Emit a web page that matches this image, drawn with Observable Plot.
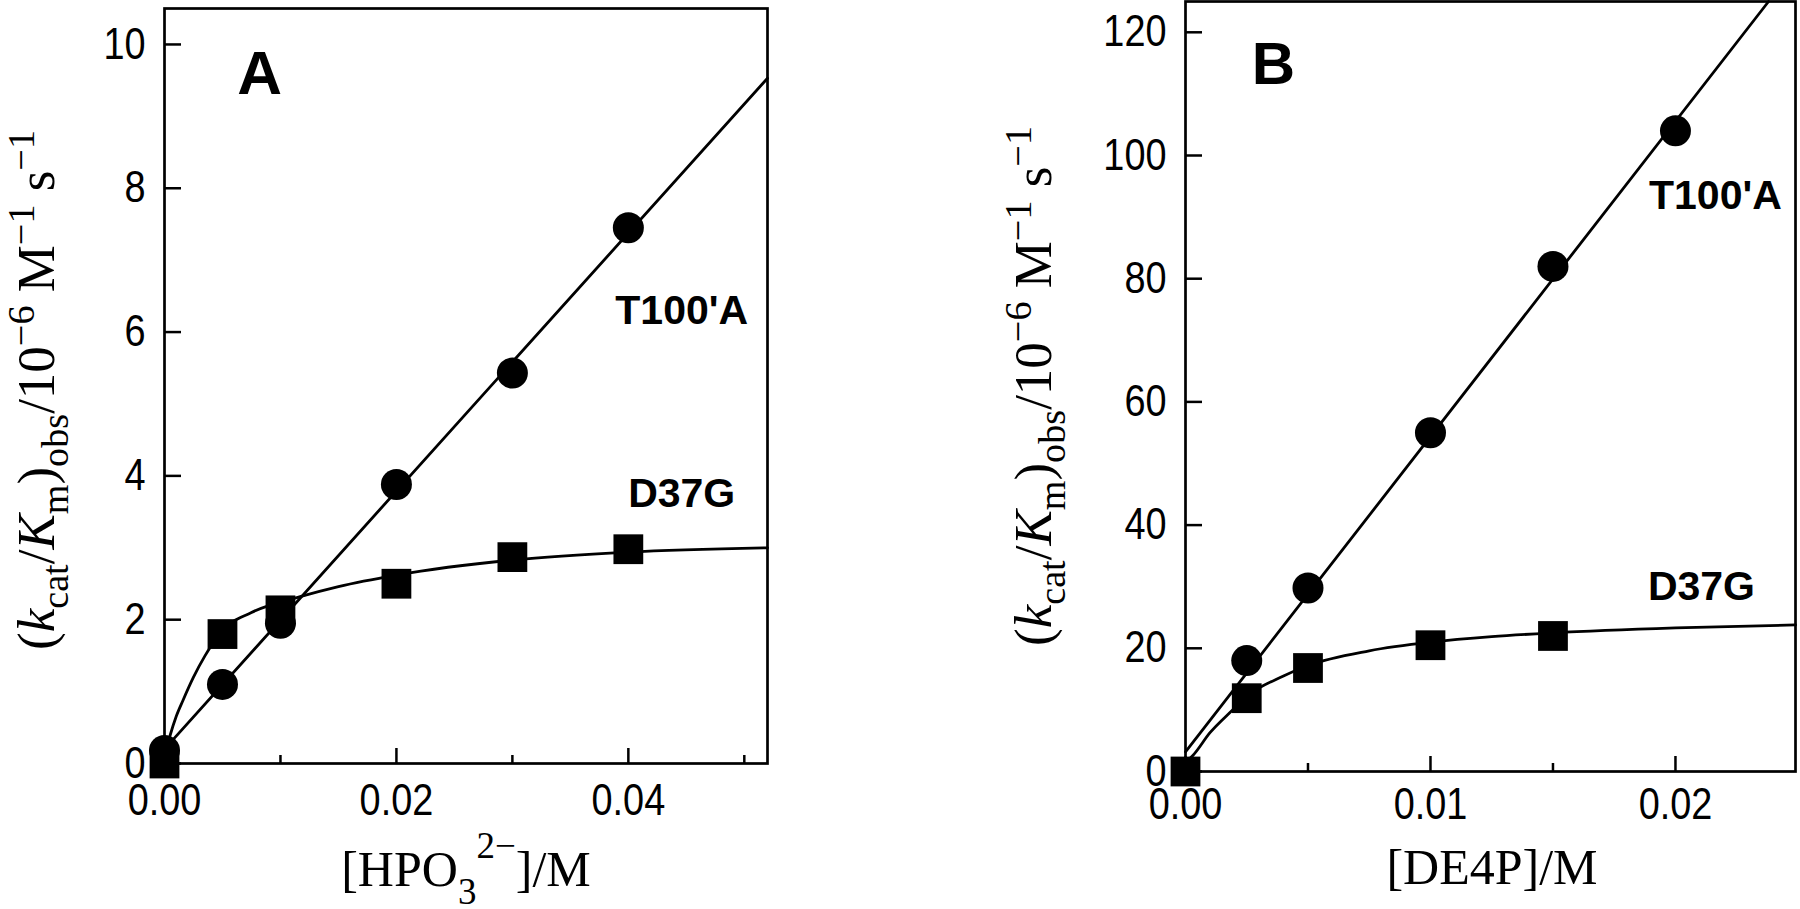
<!DOCTYPE html>
<html><head><meta charset="utf-8">
<script src="https://cdn.jsdelivr.net/npm/d3@7"></script>
<script src="https://cdn.jsdelivr.net/npm/@observablehq/plot@0.6"></script>
<style>
body{margin:0;background:#fff;}
#wrap{position:relative;width:1800px;height:909px;overflow:hidden;background:#fff;}
#wrap svg{position:absolute;top:0;}
</style></head><body><div id="wrap"></div>
<script>
// ---------- Panel A : [HPO3 2-] ----------
const aT100A_x = [0, 0.005, 0.01, 0.02, 0.03, 0.04];
const aT100A_y = [0.18, 1.10, 1.95, 3.88, 5.43, 7.45];
const aD37G_x = [0, 0.005, 0.01, 0.02, 0.03, 0.04];
const aD37G_y = [0.0, 1.80, 2.13, 2.50, 2.87, 2.98];
const aT100A_fit_x = [0, 0.052];
const aT100A_fit_y = [0.2, 9.53];
const aD37G_fit_x = [0, 0.0005, 0.001, 0.0016, 0.0025, 0.0035, 0.005, 0.0075, 0.0117, 0.015, 0.02, 0.03, 0.04, 0.052];
const aD37G_fit_y = [0.1, 0.4, 0.65, 0.88, 1.2, 1.5, 1.85, 2.1, 2.32, 2.46, 2.62, 2.83, 2.94, 3.0];
const aXMajor = [0, 0.02, 0.04];
const aXMajorLabels = ["0.00", "0.02", "0.04"];
const aXMinor = [0.01, 0.03, 0.05];
const aYTicks = [0, 2, 4, 6, 8, 10];
const aYLabels = ["0", "2", "4", "6", "8", "10"];
const aNotes = [
  {x: 0.0082, y: 9.58, text: "A", size: 62},
  {x: 0.0446, y: 6.3, text: "T100'A", size: 41},
  {x: 0.0446, y: 3.75, text: "D37G", size: 41}
];

// ---------- Panel B : [DE4P] ----------
const bT100A_x = [0.0025, 0.005, 0.01, 0.015, 0.02];
const bT100A_y = [18.0, 29.8, 55.0, 82.0, 104.0];
const bD37G_x = [0, 0.0025, 0.005, 0.01, 0.015];
const bD37G_y = [0, 11.9, 16.8, 20.5, 22.0];
const bT100A_fit_x = [0, 0.0238];
const bT100A_fit_y = [3.2, 125];
const bD37G_fit_x = [0, 0.0003, 0.001, 0.0019, 0.0025, 0.004, 0.005, 0.0075, 0.01, 0.0125, 0.015, 0.02, 0.0249];
const bD37G_fit_y = [1.5, 2.6, 6.3, 9.9, 12.2, 15.5, 17.2, 19.6, 21.0, 21.9, 22.5, 23.3, 23.8];
const bXMajor = [0, 0.01, 0.02];
const bXMajorLabels = ["0.00", "0.01", "0.02"];
const bXMinor = [0.005, 0.015];
const bYTicks = [0, 20, 40, 60, 80, 100, 120];
const bYLabels = ["0", "20", "40", "60", "80", "100", "120"];
const bNotes = [
  {x: 0.00359, y: 114.8, text: "B", size: 60},
  {x: 0.02163, y: 93.5, text: "T100'A", size: 41},
  {x: 0.02106, y: 29.9, text: "D37G", size: 41}
];

const tickFont = "'Liberation Sans', Arial, sans-serif";
const noteFont = "'Liberation Sans', Arial, sans-serif";
const serif = "'Liberation Serif', 'Times New Roman', serif";

const pts = (xs, ys) => xs.map((x, i) => ({x, y: ys[i]}));

function addTitle(svg, parts, size, attrs, subShift, supShift, scriptScale) {
  const t = d3.select(svg).append("text").attr("font-family", serif).attr("font-size", size)
    .attr("fill", "black").attr("text-anchor", "middle");
  Object.entries(attrs).forEach(([k, v]) => t.attr(k, v));
  let cur = 0;
  parts.forEach(p => {
    const target = p.s === "sub" ? subShift : p.s === "sup" ? -supShift : 0;
    const ts = t.append("tspan").text(p.t).attr("dy", target - cur);
    cur = target;
    if (p.s) ts.attr("font-size", size * scriptScale);
    if (p.i) ts.attr("font-style", "italic");
  });
}

function panel(o) {
  const svg = Plot.plot({
    width: 900, height: 909,
    marginLeft: o.ml, marginRight: o.mr, marginTop: o.mt, marginBottom: o.mb,
    x: {domain: o.xDomain},
    y: {domain: o.yDomain},
    style: {fontFamily: tickFont, fontSize: "44px", color: "black", background: "transparent", overflow: "visible"},
    marks: [
      Plot.axisX({ticks: o.xMajor, tickSize: -15, tickPadding: o.xPad, tickFormat: (d, i) => o.xLabels[i], label: null, strokeWidth: 2.5, fontSize: 44}),
      Plot.axisX({ticks: o.xMinor, tickSize: -8, tickPadding: 0, tickFormat: () => "", label: null, strokeWidth: 2.5}),
      Plot.axisY({ticks: o.yTicks, tickSize: -17, tickPadding: 36, tickFormat: (d, i) => o.yLabels[i], label: null, strokeWidth: 2.5, fontSize: 44}),
      Plot.line(pts(o.t100Fx, o.t100Fy), {x: "x", y: "y", stroke: "black", strokeWidth: 2.8}),
      Plot.line(pts(o.d37Fx, o.d37Fy), {x: "x", y: "y", stroke: "black", strokeWidth: 2.8, curve: "monotone-x"}),
      Plot.dot(pts(o.t100x, o.t100y), {x: "x", y: "y", r: 15.5, fill: "black", symbol: "circle"}),
      Plot.dot(pts(o.d37x, o.d37y), {x: "x", y: "y", r: 16.8, fill: "black", symbol: "square"}),
      Plot.frame({stroke: "black", strokeWidth: 2.7}),
      Plot.text(o.notes, {x: "x", y: "y", text: "text", fontSize: d => d.size, fontFamily: noteFont, fontWeight: "bold", fill: "black"})
    ]
  });
  svg.style.left = o.left + "px";
  addTitle(svg, o.xTitle, 50, {x: o.xTitleX, y: o.xTitleY}, 18, 28, 0.74);
  addTitle(svg, yTitle, 53, {transform: `translate(${o.yTitleX},${o.yTitleY}) rotate(-90)`}, 14, 20, 0.72);
  document.getElementById("wrap").appendChild(svg);
  // narrow the tick labels (the reference uses a condensed face)
  d3.select(svg).selectAll('g[aria-label="x-axis tick label"] text, g[aria-label="y-axis tick label"] text')
    .each(function () {
      const w = this.getComputedTextLength();
      if (w > 0) { this.setAttribute("textLength", w * 0.86); this.setAttribute("lengthAdjust", "spacingAndGlyphs"); }
    });
}

const yTitle = [
  {t: "("}, {t: "k", i: true}, {t: "cat", s: "sub"}, {t: "/"}, {t: "K", i: true}, {t: "m", s: "sub"},
  {t: ")"}, {t: "obs", s: "sub"}, {t: "/10"}, {t: "−6", s: "sup"}, {t: " M"}, {t: "−1", s: "sup"},
  {t: " s"}, {t: "−1", s: "sup"}
];
const xTitleA = [{t: "[HPO"}, {t: "3", s: "sub"}, {t: "2−", s: "sup"}, {t: "]/M"}];
const xTitleB = [{t: "[DE4P]/M"}];

panel({
  left: 0, ml: 164, mr: 133, mt: 8, mb: 146,
  xDomain: [0, 0.052], yDomain: [0, 10.5],
  xMajor: aXMajor, xLabels: aXMajorLabels, xMinor: aXMinor, xPad: 35,
  yTicks: aYTicks, yLabels: aYLabels,
  t100x: aT100A_x, t100y: aT100A_y, d37x: aD37G_x, d37y: aD37G_y,
  t100Fx: aT100A_fit_x, t100Fy: aT100A_fit_y, d37Fx: aD37G_fit_x, d37Fy: aD37G_fit_y,
  notes: aNotes, xTitle: xTitleA, xTitleX: 466, xTitleY: 886, yTitleX: 54, yTitleY: 390
});
panel({
  left: 900, ml: 285, mr: 5, mt: 1, mb: 138,
  xDomain: [0, 0.0249], yDomain: [0, 125],
  xMajor: bXMajor, xLabels: bXMajorLabels, xMinor: bXMinor, xPad: 31,
  yTicks: bYTicks, yLabels: bYLabels,
  t100x: bT100A_x, t100y: bT100A_y, d37x: bD37G_x, d37y: bD37G_y,
  t100Fx: bT100A_fit_x, t100Fy: bT100A_fit_y, d37Fx: bD37G_fit_x, d37Fy: bD37G_fit_y,
  notes: bNotes, xTitle: xTitleB, xTitleX: 592, xTitleY: 884, yTitleX: 151, yTitleY: 386
});
</script></body></html>
